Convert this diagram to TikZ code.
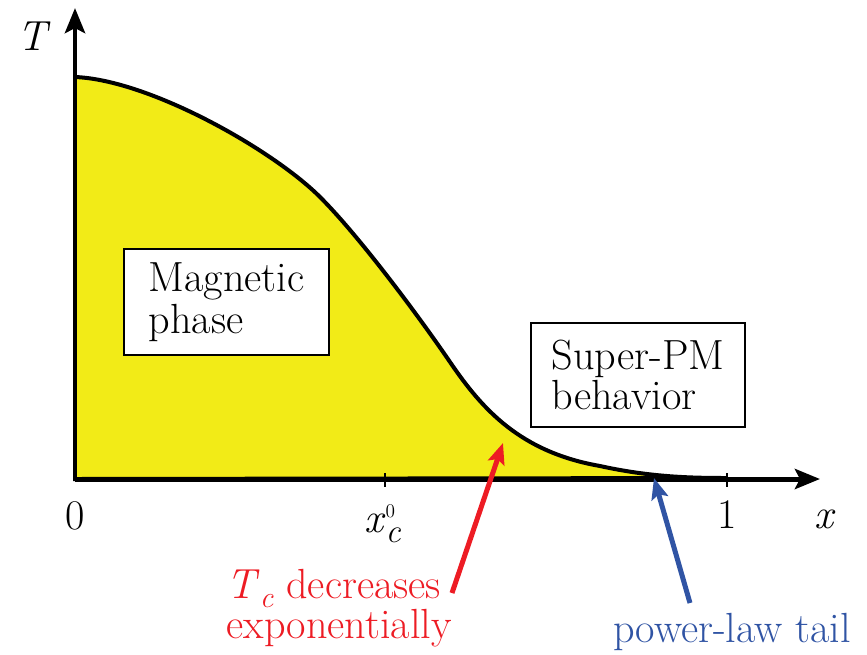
\documentclass[tikz,border=0pt]{standalone}
\usetikzlibrary{
  arrows.meta,  % Stealth 箭头
  positioning   % 节点相对定位
}
\definecolor{phaseyellow}{RGB}{242,235,23}
\definecolor{decayred}{RGB}{237,28,36}
\definecolor{tailblue}{RGB}{48,84,164}

\begin{document}
\begin{tikzpicture}[x=0.02cm, y=-0.02cm, >=Stealth,
    font=\fontsize{24}{29}\selectfont,
    axis/.style={line width=0.1cm, -{Stealth[length=0.5cm, width=0.4cm, inset=0.1cm]}},
    infobox/.style={draw, line width=0.055cm, fill=white, align=left, inner sep=0pt},
    pointer/.style={line width=0.1cm, -{Stealth[length=0.42cm, width=0.34cm, inset=0.08cm]}}]

  \useasboundingbox (0,0) rectangle (867,654);

  % =========== 相区与相界曲线 ===========
  \coordinate (top) at (75,77);
  \coordinate (bend) at (320,197);
  \coordinate (steep) at (450,362);
  \coordinate (knee) at (600,466);
  \coordinate (tailEnd) at (727,478);
  \draw[fill=phaseyellow, line width=0.08cm]
    (75,479) -- (top)
    .. controls (150,80) and (273,150) .. (bend)
    .. controls (360,237) and (420,318) .. (steep)
    .. controls (482,409) and (520,452) .. (knee)
    .. controls (650,477) and (690,478) .. (tailEnd)
    -- cycle;

  % =========== 坐标轴 ===========
  \coordinate (O) at (75,479);
  \draw[axis] (O) -- (75,8);
  \draw[axis] (O) -- (820,479);
  % 刻度
  \foreach \tx in {385,727}
    \draw[line width=0.05cm] (\tx,473) -- (\tx,487);

  % 轴标签
  \node[anchor=base] (Tlab) at (34,50) {\textit{T}};
  \node[anchor=base] (xlab) at (825,528) {\textit{x}};
  \node[anchor=base] (zero) at (75,529) {0};
  \node[anchor=base] (one) at (727,528) {1};
  \node[anchor=base west, inner sep=0pt] (xczero) at (364,532)
    {\textit{x}\makebox[0pt][l]{\raisebox{8pt}{\fontsize{11}{11}\selectfont 0}}%
     \raisebox{-5.7pt}{\fontsize{19}{19}\selectfont\textit{c}}};

  % =========== 区域说明框 ===========
  \node[infobox, minimum width=4.1cm, minimum height=2.12cm,
        font=\fontsize{24}{23.9}\selectfont] (magnetic) at (226.5,302)
    {Magnetic\\phase};
  \node[infobox, minimum width=4.28cm, minimum height=2.08cm,
        font=\fontsize{24}{20.6}\selectfont] (superpm) at (638,375)
    {Super-PM\\behavior};

  % =========== 指示箭头 ===========
  \node[text=decayred, align=left, inner sep=0pt,
        font=\fontsize{24}{22.8}\selectfont] (tcnote) at (339,608)
    {\textit{T}\raisebox{-5pt}{\fontsize{17}{17}\selectfont\textit{c}} decreases\\exponentially};
  \node[text=tailblue, anchor=base] (tailnote) at (732,642) {power-law tail};

  \coordinate (tcTail) at (452,593);
  \coordinate (tcTip) at (503,443);
  \coordinate (tailTail) at (690,603);
  \coordinate (tailTip) at (654,478);
  \draw[pointer, decayred] (tcTail) -- (tcTip);
  \draw[pointer, tailblue] (tailTail) -- (tailTip);

\end{tikzpicture}
\end{document}
